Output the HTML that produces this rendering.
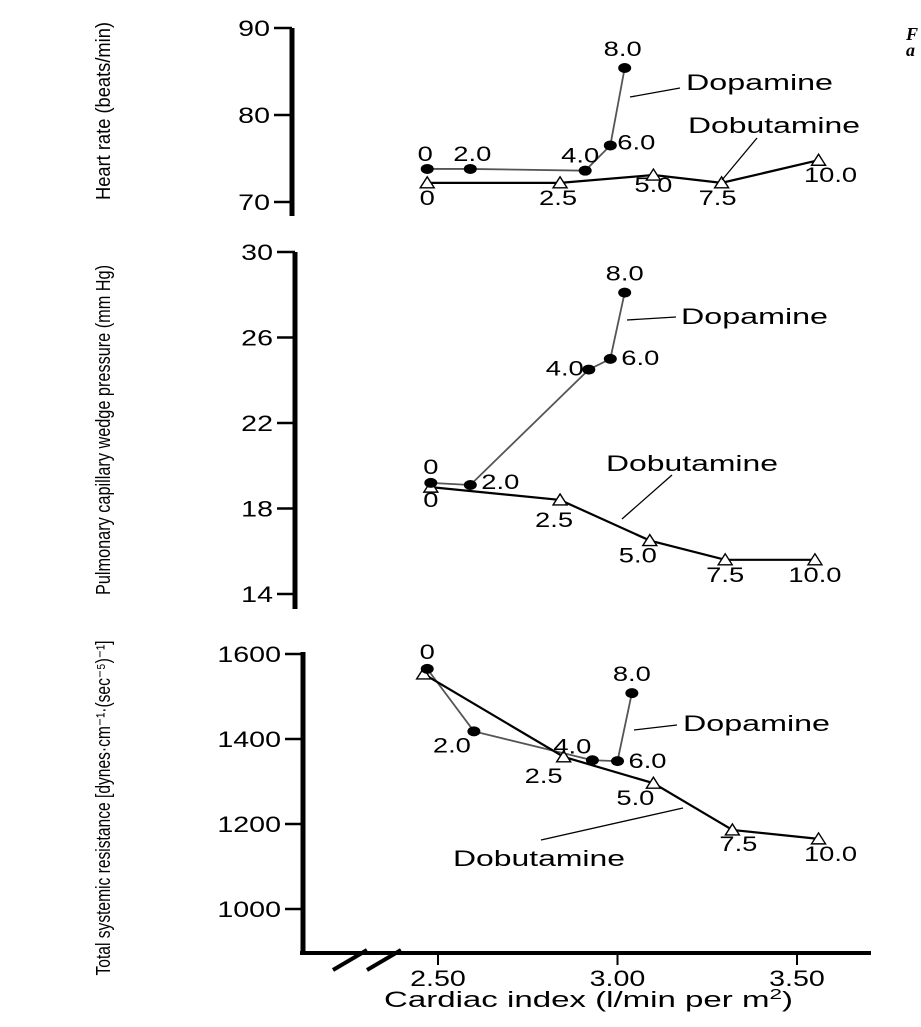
<!DOCTYPE html>
<html><head><meta charset="utf-8"><style>
html,body{margin:0;padding:0;background:#fff;}
svg{display:block;font-family:"Liberation Sans",sans-serif;}
</style></head><body>
<svg id="chart" width="921" height="1027" viewBox="0 0 921 1027"></svg>
<script>
// ---- data ----
const xTicks = [2.5, 3.0, 3.5];
const xTickLabels = ["2.50", "3.00", "3.50"];
const hrTicks = [90, 80, 70];
const pcwTicks = [30, 26, 22, 18, 14];
const tsrTicks = [1600, 1400, 1200, 1000];
const dopaDoses = ["0", "2.0", "4.0", "6.0", "8.0"];
const dobuDoses = ["0", "2.5", "5.0", "7.5", "10.0"];
const hrDopaX = [2.47, 2.59, 2.91, 2.98, 3.02];
const hrDopaY = [73.8, 73.8, 73.6, 76.5, 85.4];
const hrDobuX = [2.47, 2.84, 3.10, 3.29, 3.56];
const hrDobuY = [72.2, 72.2, 73.1, 72.2, 74.8];
const pcwDopaX = [2.48, 2.59, 2.92, 2.98, 3.02];
const pcwDopaY = [19.2, 19.1, 24.5, 25.0, 28.1];
const pcwDobuX = [2.48, 2.84, 3.09, 3.30, 3.55];
const pcwDobuY = [19.0, 18.4, 16.5, 15.6, 15.6];
const tsrDopaX = [2.47, 2.60, 2.93, 3.00, 3.04];
const tsrDopaY = [1565, 1418, 1350, 1348, 1508];
const tsrDobuX = [2.46, 2.85, 3.10, 3.32, 3.56];
const tsrDobuY = [1553, 1358, 1296, 1186, 1165];

// ---- layout ----
const svg = document.getElementById('chart');
const NS = 'http://www.w3.org/2000/svg';
const wide = [];
function mk(tag, attrs, parent) {
  const e = document.createElementNS(NS, tag);
  for (const k in attrs) e.setAttribute(k, attrs[k]);
  (parent || svg).appendChild(e);
  return e;
}
const xs = v => 438 + (v - 2.5) * 359;
const panels = [
  {name:'heart-rate', ax:292, top:28, bot:216, y0:90, py0:28, y1:70, py1:202, ticks:hrTicks,
   title:'Heart rate (beats/min)', titleY:111, titleLen:178,
   dx:hrDopaX, dy:hrDopaY, bx:hrDobuX, by:hrDobuY,
   dopaOff:[[-2,-8],[2,-8],[-5,-8],[26,4],[-2,-12]],
   bobuOff:[[0,22],[-2,22],[0,17],[-4,22],[12,22]]},
  {name:'pcwp', ax:295, top:252, bot:609, y0:30, py0:252, y1:14, py1:594, ticks:pcwTicks,
   title:'Pulmonary capillary wedge pressure (mm Hg)', titleY:430, titleLen:330,
   dx:pcwDopaX, dy:pcwDopaY, bx:pcwDobuX, by:pcwDobuY,
   dopaOff:[[0,-9],[30,4],[-24,6],[30,6],[0,-12]],
   bobuOff:[[0,20],[-6,27],[-12,22],[0,22],[0,22]]},
  {name:'tsr', ax:303, top:652, bot:953, y0:1600, py0:654, y1:1000, py1:909, ticks:tsrTicks,
   title:'Total systemic resistance [dynes\u00b7cm\u207b\u00b9\u00b7(sec\u207b\u2075)\u207b\u00b9]', titleY:808, titleLen:335,
   dx:tsrDopaX, dy:tsrDopaY, bx:tsrDobuX, by:tsrDobuY,
   dopaOff:[[0,-10],[-22,21],[-20,-7],[30,7],[0,-12]],
   bobuOff:[[0,0],[-20,26],[-18,22],[6,21],[12,22]]}
];
panels.forEach(p => {
  const g = mk('g', {});
  
  
  const ys = v => p.py0 + (v - p.y0) * (p.py1 - p.py0) / (p.y1 - p.y0);
  const ax = mk('line', {x1:p.ax, y1:p.top, x2:p.ax, y2:p.bot, stroke:'#000', 'stroke-width':5}, g);
  
  
  p.ticks.forEach(t => {
    const y = ys(t);
    mk('line', {x1:p.ax - 18, y1:y, x2:p.ax, y2:y, stroke:'#000', 'stroke-width':2.5}, g);
    const tl = mk('text', {x:p.ax - 22, y:y + 8, 'text-anchor':'end', 'font-size':22}, g);
    tl.textContent = String(t);
    
    
    wide.push(tl);
  });
  const tt = mk('text', {x:0, y:0, 'font-size':20, 'text-anchor':'middle',
    textLength:p.titleLen, lengthAdjust:'spacingAndGlyphs',
    transform:'translate(110,' + p.titleY + ') rotate(-90)'}, g);
  tt.textContent = p.title;
  
  
  const dpts = p.dx.map((v, i) => xs(v) + ',' + ys(p.dy[i])).join(' ');
  const dl = mk('polyline', {points:dpts, fill:'none', stroke:'#555', 'stroke-width':1.8}, g);
  
  
  const bpts = p.bx.map((v, i) => xs(v) + ',' + ys(p.by[i])).join(' ');
  const bl = mk('polyline', {points:bpts, fill:'none', stroke:'#000', 'stroke-width':2.2}, g);
  
  
  p.bx.forEach((v, i) => {
    const x = xs(v), y = ys(p.by[i]);
    const tri = mk('polygon', {points:(x-7)+','+(y+5)+' '+(x+7)+','+(y+5)+' '+x+','+(y-6), fill:'#fff', stroke:'#000', 'stroke-width':1.4}, g);
    
    
    const o = p.bobuOff[i];
    if (p.name === 'tsr' && i === 0) return;
    const lb = mk('text', {x:x + o[0], y:y + o[1], 'text-anchor':'middle', 'font-size':21}, g);
    lb.textContent = dobuDoses[i];
    
    
    wide.push(lb);
  });
  p.dx.forEach((v, i) => {
    const x = xs(v), y = ys(p.dy[i]);
    const c = mk('ellipse', {cx:x, cy:y, rx:6.5, ry:5, fill:'#000'}, g);
    
    
    const o = p.dopaOff[i];
    const lb = mk('text', {x:x + o[0], y:y + o[1], 'text-anchor':'middle', 'font-size':21}, g);
    lb.textContent = dopaDoses[i];
    
    
    wide.push(lb);
  });
});
// annotations
const ann = [
  ['Dopamine', 686, 90, 630, 97, 680, 88, 147],
  ['Dobutamine', 688, 133, 722, 180, 757, 138, 172],
  ['Dopamine', 681, 324, 627, 320, 676, 317, 147],
  ['Dobutamine', 606, 471, 622, 519, 672, 475, 172],
  ['Dopamine', 683, 731, 634, 730, 677, 725, 147],
  ['Dobutamine', 453, 866, 541, 840, 683, 808, 172]
];
ann.forEach(a => {
  mk('line', {x1:a[3], y1:a[4], x2:a[5], y2:a[6], stroke:'#000', 'stroke-width':1.3});
  const t = mk('text', {x:a[1], y:a[2], 'font-size':22, textLength:a[7], lengthAdjust:'spacingAndGlyphs'});
  t.textContent = a[0];
  
  
});
// x axis
const xa = mk('line', {x1:300, y1:953, x2:871, y2:953, stroke:'#000', 'stroke-width':4});


mk('line', {x1:333, y1:970, x2:367, y2:950, stroke:'#000', 'stroke-width':4});
mk('line', {x1:367, y1:970, x2:401, y2:950, stroke:'#000', 'stroke-width':4});
xTicks.forEach((v, i) => {
  const x = xs(v);
  mk('line', {x1:x, y1:953, x2:x, y2:965, stroke:'#000', 'stroke-width':2});
  const t = mk('text', {x:x, y:986, 'text-anchor':'middle', 'font-size':22});
  t.textContent = xTickLabels[i];
  
  
  wide.push(t);
});
const xt = mk('text', {x:384, y:1007, 'font-size':22, textLength:409, lengthAdjust:'spacingAndGlyphs'});
xt.innerHTML = 'Cardiac index (l/min per m<tspan dy="-8" font-size="15">2</tspan><tspan dy="8">)</tspan>';


const corner = mk('text', {x:906, y:40, 'font-size':18, 'font-weight':'bold', 'font-style':'italic', 'font-family':'Liberation Serif, serif'});
corner.innerHTML = 'F<tspan x="906" dy="16">a</tspan>';


// widen text to match the reference's extended typeface
wide.forEach(t => {
  const w = t.getComputedTextLength();
  if (w > 0) {
    t.setAttribute('textLength', (w * 1.3).toFixed(1));
    t.setAttribute('lengthAdjust', 'spacingAndGlyphs');
  }
});
</script>
</body></html>
